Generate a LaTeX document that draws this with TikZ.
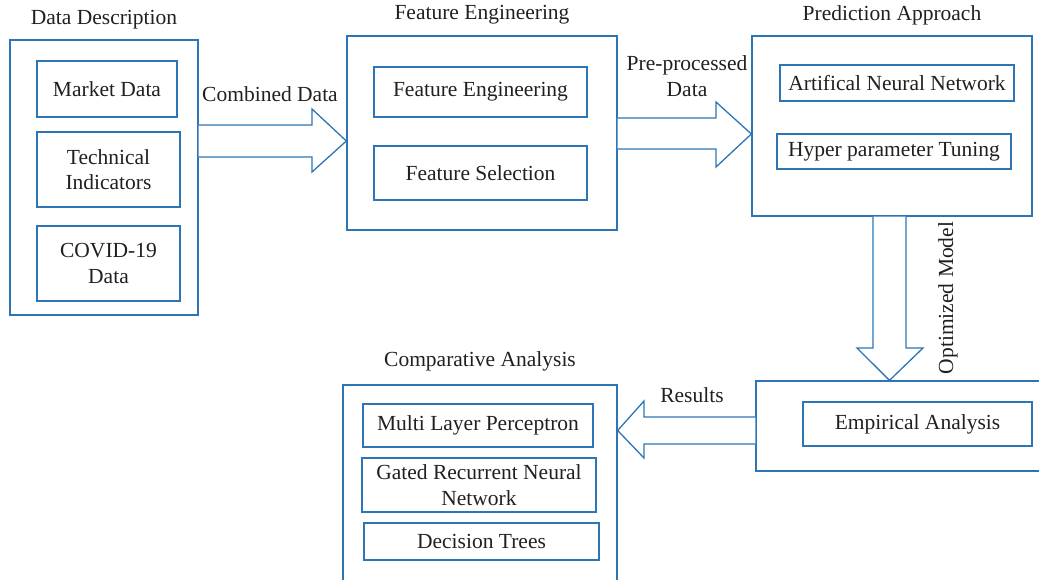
\documentclass[tikz,border=0pt]{standalone}
\usepackage{fontspec}
\setmainfont{Liberation Serif}
\usetikzlibrary{calc}
\definecolor{lineblue}{RGB}{46,117,182}
\definecolor{textgray}{RGB}{35,31,32}
\begin{document}
\begin{tikzpicture}[x=1pt,y=-1pt,
  every node/.style={text=textgray,font=\fontsize{21.5}{25.5}\selectfont},
  outerbox/.style={draw=lineblue,line width=1.3pt,inner sep=0pt},
  innerbox/.style={draw=lineblue,line width=1.3pt,inner sep=0pt,align=center},
  titlelabel/.style={inner sep=0pt},
  barrow/.style={draw=lineblue,line width=1.3pt,fill=white,line join=miter}]
\useasboundingbox (0,0) rectangle (1039,580);
\clip (0,0) rectangle (1039,580);
% outer boxes
\node[outerbox,minimum width=188pt,minimum height=275pt] (dd) at (104,177.5) {};
\node[outerbox,minimum width=270pt,minimum height=194pt] (fe) at (482,133) {};
\node[outerbox,minimum width=280pt,minimum height=180pt] (pa) at (892,126) {};
\node[outerbox,minimum width=289pt,minimum height=90pt] (ea) at (900.5,426) {};
\node[outerbox,minimum width=274pt,minimum height=230pt] (ca) at (480,500) {};
% titles
\node[titlelabel] (ddt) at (104,20) {Data Description};
\node[titlelabel] (fet) at (482,15) {Feature Engineering};
\node[titlelabel] (pat) at (892,15) {Prediction Approach};
\node[titlelabel] (cat) at (480,361) {Comparative Analysis};
% inner boxes
\node[innerbox,minimum width=140pt,minimum height=56pt] (md) at (107,89) {Market Data};
\node[innerbox,minimum width=143pt,minimum height=75pt] (ti) at (108.5,169.5) {Technical\\Indicators};
\node[innerbox,minimum width=143pt,minimum height=75pt] (cv) at (108.5,263.5) {COVID-19\\Data};
\node[innerbox,minimum width=213pt,minimum height=50pt] (fe1) at (480.5,92) {Feature Engineering};
\node[innerbox,minimum width=213pt,minimum height=54pt] (fs) at (480.5,173) {Feature Selection};
\node[innerbox,minimum width=234pt,minimum height=36pt] (ann) at (897,83) {Artifical Neural Network};
\node[innerbox,minimum width=234pt,minimum height=35pt] (hpt) at (894,151.5) {Hyper parameter Tuning};
\node[innerbox,minimum width=229pt,minimum height=44pt] (emp) at (917.5,424) {Empirical Analysis};
\node[innerbox,minimum width=230pt,minimum height=43pt] (mlp) at (478,425.5) {Multi Layer Perceptron};
\node[innerbox,minimum width=234pt,minimum height=54pt] (grnn) at (479,485) {Gated Recurrent Neural\\Network};
\node[innerbox,minimum width=235pt,minimum height=37pt] (dt) at (481.5,541.5) {Decision Trees};
% block arrows
\draw[barrow] (dd.east |- 0,125) -- (312,125) -- (312,109) -- (fe.west |- 0,141) -- (312,172) -- (312,157) -- (dd.east |- 0,157);
\draw[barrow] (fe.east |- 0,118) -- (716,118) -- (716,102) -- (pa.west |- 0,134) -- (716,167) -- (716,149) -- (fe.east |- 0,149);
\draw[barrow] (pa.south -| 873,0) -- (873,348) -- (857,348) -- (ea.north -| 889.5,0) -- (923,348) -- (906,348) -- (pa.south -| 906,0);
\draw[barrow] (ea.west |- 0,417) -- (644,417) -- (644,401) -- (ca.east |- 0,430.5) -- (644,458) -- (644,444) -- (ea.west |- 0,444);
% arrow labels
\node[titlelabel] (lcd) at (270,94) {Combined Data};
\node[titlelabel,align=center] (lpp) at (687,76) {Pre-processed\\Data};
\node[titlelabel,rotate=90] (lom) at (948,298) {Optimized Model};
\node[titlelabel] (lres) at (692,395) {Results};
\end{tikzpicture}
\end{document}
